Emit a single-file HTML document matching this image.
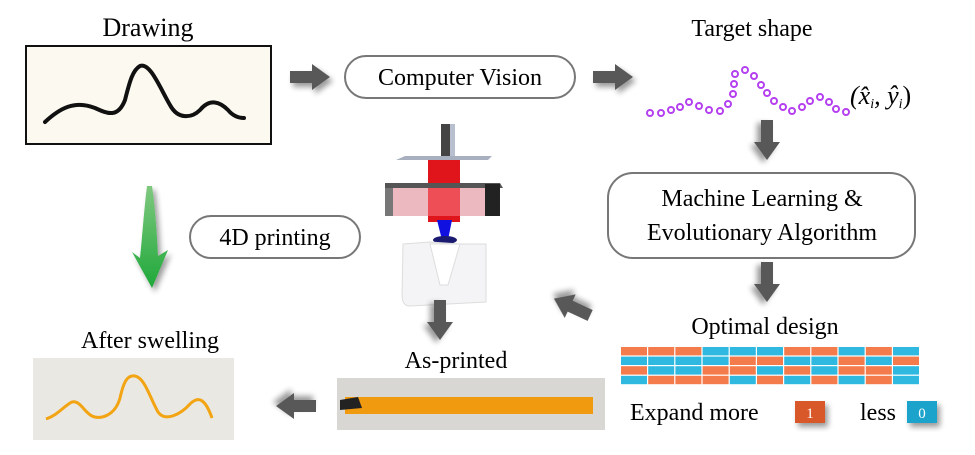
<!DOCTYPE html>
<html><head><meta charset="utf-8"><style>
body{margin:0;background:#fff;}
svg{display:block;}
text{font-family:"Liberation Serif",serif;fill:#000;}
</style></head><body>
<svg width="975" height="455" viewBox="0 0 975 455" xmlns="http://www.w3.org/2000/svg">
<defs>
<filter id="sh" x="-50%" y="-50%" width="200%" height="200%"><feGaussianBlur in="SourceAlpha" stdDeviation="3"/><feOffset dx="3" dy="4"/><feComponentTransfer><feFuncA type="linear" slope="0.4"/></feComponentTransfer><feMerge><feMergeNode/><feMergeNode in="SourceGraphic"/></feMerge></filter>
<g id="ar"><path d="M-20,-6 L2,-6 L2,-13 L20,0 L2,13 L2,6 L-20,6 Z" fill="#595959"/></g>
<linearGradient id="gr" x1="0" y1="0" x2="0" y2="1"><stop offset="0" stop-color="#7fc87f"/><stop offset="1" stop-color="#1fa83a"/></linearGradient>
</defs>
<!-- Drawing -->
<text x="148" y="36" font-size="26" text-anchor="middle">Drawing</text>
<rect x="26" y="46" width="245" height="98" fill="#fcfaf0" stroke="#111" stroke-width="2"/>
<path d="M45,122 C60,108 75,100 95,108 C108,114 118,118 125,100 C130,80 133,70 140,66 C150,62 160,88 170,105 C178,120 192,118 200,110 C210,98 220,102 228,110 C233,116 238,118 244,118" fill="none" stroke="#111" stroke-width="4" stroke-linecap="round"/>
<use href="#ar" transform="translate(310,77)" filter="url(#sh)"/>
<rect x="345" y="56" width="230" height="42" rx="21" fill="#fff" stroke="#777" stroke-width="2"/>
<text x="460" y="85" font-size="24" text-anchor="middle">Computer Vision</text>
<use href="#ar" transform="translate(613,77)" filter="url(#sh)"/>
<!-- target -->
<text x="752" y="36" font-size="24" text-anchor="middle">Target shape</text>
<g fill="none" stroke="#b540f0" stroke-width="2">
<circle cx="650" cy="113" r="3"/><circle cx="661" cy="113" r="3"/><circle cx="671" cy="110" r="3"/><circle cx="680" cy="107" r="3"/><circle cx="689" cy="102" r="3"/><circle cx="699" cy="106" r="3"/><circle cx="709" cy="110" r="3"/><circle cx="720" cy="111" r="3"/><circle cx="728" cy="104" r="3"/><circle cx="733" cy="94" r="3"/><circle cx="734" cy="84" r="3"/><circle cx="735" cy="74" r="3"/><circle cx="745" cy="70" r="3"/><circle cx="754" cy="76" r="3"/><circle cx="761" cy="85" r="3"/><circle cx="767" cy="93" r="3"/><circle cx="774" cy="101" r="3"/><circle cx="783" cy="107" r="3"/><circle cx="792" cy="111" r="3"/><circle cx="802" cy="107" r="3"/><circle cx="810" cy="101" r="3"/><circle cx="820" cy="97" r="3"/><circle cx="829" cy="102" r="3"/><circle cx="836" cy="109" r="3"/><circle cx="846" cy="112" r="3"/>
</g>
<text x="850" y="104" font-size="26" font-style="italic">(x̂<tspan font-size="14" dy="4">i</tspan><tspan dy="-4">, ŷ</tspan><tspan font-size="14" dy="4">i</tspan><tspan dy="-4" font-style="normal">)</tspan></text>
<use href="#ar" transform="translate(767,140) rotate(90)" filter="url(#sh)"/>
<rect x="608" y="173" width="307" height="85" rx="25" fill="#fff" stroke="#777" stroke-width="2"/>
<text x="762" y="206" font-size="24" text-anchor="middle">Machine Learning &amp;</text>
<text x="762" y="240" font-size="24" text-anchor="middle">Evolutionary Algorithm</text>
<use href="#ar" transform="translate(767,282) rotate(90)" filter="url(#sh)"/>
<text x="765" y="334" font-size="24" text-anchor="middle">Optimal design</text>
<g id="grid"></g>
<text x="630" y="420" font-size="24">Expand more</text>
<rect x="795" y="401" width="30" height="22" fill="#d9582c" filter="url(#sh)"/>
<text x="810" y="418" font-size="15" fill="#fff" text-anchor="middle" style="fill:#fff">1</text>
<text x="860" y="420" font-size="24">less</text>
<rect x="907" y="401" width="30" height="22" fill="#1ea3cc" filter="url(#sh)"/>
<text x="922" y="418" font-size="15" text-anchor="middle" style="fill:#fff">0</text>
<!-- green arrow -->
<path d="M147,186 C144,210 142,240 140,258 L132,252 L152,288 L168,250 L158,256 C157,235 155,205 152,186 Z" fill="url(#gr)" filter="url(#sh)"/>
<rect x="190" y="216" width="170" height="42" rx="21" fill="#fff" stroke="#777" stroke-width="2"/>
<text x="275" y="245" font-size="24" text-anchor="middle">4D printing</text>
<!-- printer -->
<rect x="441" y="124" width="9" height="32" fill="#444"/><rect x="450" y="124" width="5" height="32" fill="#b8c0d0"/>
<polygon points="405,156 492,156 488,160 396,160" fill="#a8b0c0"/>
<rect x="428" y="160" width="32" height="62" fill="#e0151b"/>
<polygon points="385,183 500,183 503,188 385,188" fill="#555"/>
<rect x="385" y="188" width="115" height="28" fill="#e8a8b0" opacity="0.8"/>
<rect x="385" y="188" width="8" height="28" fill="#777"/>
<rect x="485" y="184" width="15" height="32" fill="#222"/>
<rect x="428" y="188" width="32" height="28" fill="#f04048" opacity="0.8"/>
<polygon points="437,220 452,220 448,240 442,240" fill="#1010e0"/>
<ellipse cx="445" cy="240" rx="12" cy2="0" ry="4" fill="#1a1a70"/>
<path d="M403,244 L430,242 L460,244 L486,244 L486,302 L410,306 C403,306 402,300 402,295 Z" fill="#f4f4f6" stroke="#ddd"/>
<path d="M430,244 L440,285 L448,285 L460,244 Z" fill="#fff" stroke="#ddd"/>
<use href="#ar" transform="translate(440,320) rotate(90)" filter="url(#sh)"/>
<use href="#ar" transform="translate(572,307) rotate(-155)" filter="url(#sh)"/>
<!-- as-printed -->
<text x="456" y="368" font-size="24" text-anchor="middle">As-printed</text>
<rect x="337" y="378" width="268" height="52" fill="#d9d7d3"/>
<rect x="345" y="397" width="248" height="17" fill="#f09a10"/>
<path d="M340,400 L358,397 L362,408 L340,410 Z" fill="#222"/>
<use href="#ar" transform="translate(296,406) rotate(180)" filter="url(#sh)"/>
<text x="150" y="348" font-size="24" text-anchor="middle">After swelling</text>
<rect x="33" y="358" width="201" height="82" fill="#e9e8e3"/>
<path d="M46,419 C58,415 65,405 72,402 C80,400 84,412 92,416 C100,420 115,416 120,398 C124,380 128,375 135,376 C145,378 150,398 158,412 C165,422 180,415 190,404 C198,396 205,398 212,418" fill="none" stroke="#f2a412" stroke-width="3"/>
</svg>
<script>
var r=["OOOBBBOOBOB","BBBBOOBBOBO","OBBOOBOBOOB","BOOOBOBOBOB"],g=document.getElementById("grid"),s="";
for(var i=0;i<4;i++)for(var j=0;j<11;j++)s+='<rect x="'+(621+j*27.2)+'" y="'+(347+i*9.6)+'" width="26" height="8.4" fill="'+(r[i][j]=="O"?"#f47c4c":"#2fb9e0")+'"/>';
g.innerHTML=s;
</script>
</body></html>
